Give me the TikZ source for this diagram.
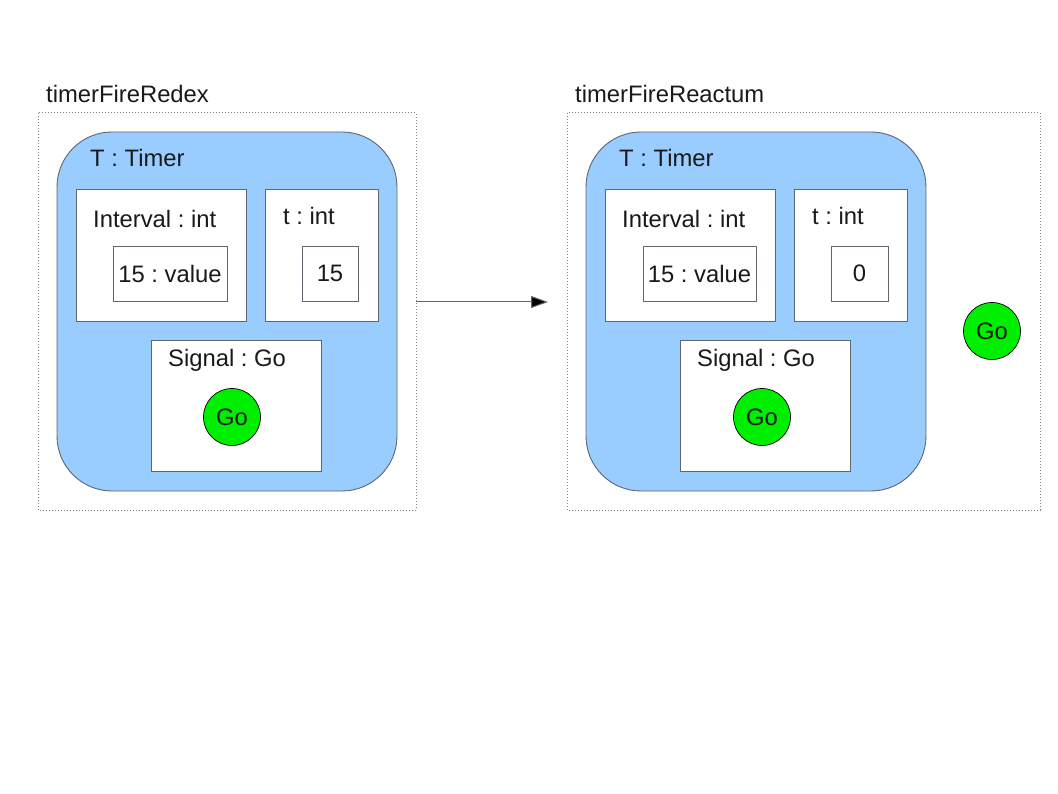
\documentclass[tikz,border=0pt]{standalone}
\usepackage{fontspec}
\setmainfont{Liberation Sans}
\usetikzlibrary{arrows.meta}
\definecolor{timerblue}{HTML}{99CCFF}
\definecolor{gogreen}{HTML}{00EE00}
\definecolor{edgegray}{HTML}{5F6670}
\frenchspacing
\begin{document}
\begin{tikzpicture}[x=1pt,y=-1pt,
  every node/.style={font=\fontsize{23.8}{28}\selectfont, inner sep=0pt, text=black!90},
  frame/.style={draw=gray, dash pattern=on 1pt off 2pt, line width=1pt},
  timer/.style={draw=edgegray, fill=timerblue, rounded corners=55pt, line width=0.9pt},
  wbox/.style={draw=edgegray, fill=white, line width=0.9pt},
  gonode/.style={circle, draw=black, fill=gogreen, minimum size=57pt, line width=0.7pt},
  lbl/.style={anchor=west}]
\useasboundingbox (0,0) rectangle (1058,794);
% left
\draw[frame] (38,113) rectangle (416,510);
\node[lbl] (Ltitle) at (46,94) {timerFireRedex};
\draw[timer] (57,132) rectangle (397,491);
\node[lbl] (LT) at (90,158) {T : Timer};
\draw[wbox] (76,189) rectangle (246,321);
\node[lbl] (LInt) at (93,219) {Interval : int};
\draw[wbox] (113,246) rectangle (227,301);
\node (Lval) at (170,273.5) {15 : value};
\draw[wbox] (265,189) rectangle (378,321);
\node[lbl] (Lt) at (283,216) {t : int};
\draw[wbox] (302,246) rectangle (358,301);
\node (Ltv) at (330,273.5) {15};
\draw[wbox] (151,340) rectangle (321,471);
\node[lbl] (LSig) at (168,360) {Signal : Go};
\node[gonode] (LGo) at (232,417) {Go};
% right
\draw[frame] (567,113) rectangle (1040,510);
\node[lbl] (Rtitle) at (575,94) {timerFireReactum};
\draw[timer] (586,132) rectangle (926,491);
\node[lbl] (RT) at (619,158) {T : Timer};
\draw[wbox] (605,189) rectangle (775,321);
\node[lbl] (RInt) at (622,219) {Interval : int};
\draw[wbox] (643,246) rectangle (756,301);
\node (Rval) at (699.5,273.5) {15 : value};
\draw[wbox] (794,189) rectangle (907,321);
\node[lbl] (Rt) at (812,216) {t : int};
\draw[wbox] (831,246) rectangle (888,301);
\node (Rtv) at (859.5,273.5) {0};
\draw[wbox] (680,340) rectangle (850,471);
\node[lbl] (RSig) at (697,360) {Signal : Go};
\node[gonode] (RGo) at (762,417) {Go};
\node[gonode] (XGo) at (992,331) {Go};
% arrow
\coordinate (A) at (416,302);
\coordinate (B) at (548,302);
\draw[draw=gray!80!black, line width=1pt, -{Triangle[length=17pt,width=12pt,fill=black]}] (A) -- (B);
\end{tikzpicture}
\end{document}
